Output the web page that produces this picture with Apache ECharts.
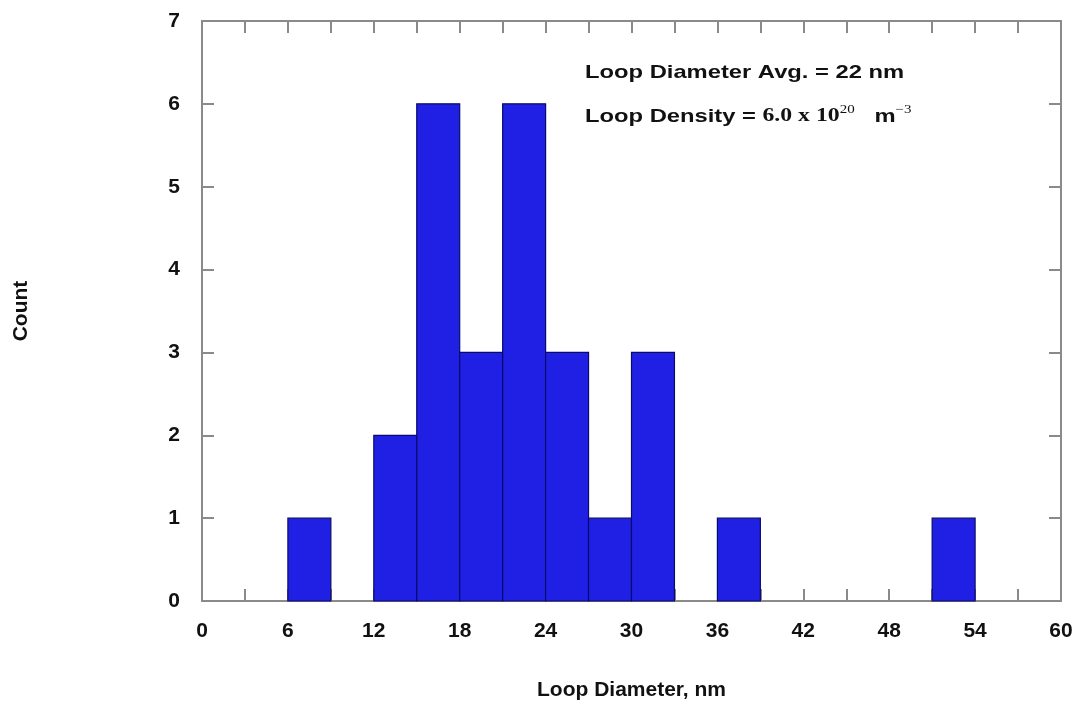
<!DOCTYPE html>
<html>
<head>
<meta charset="utf-8">
<script src="https://cdn.jsdelivr.net/npm/echarts@6/dist/echarts.min.js"></script>
<style>
html,body{margin:0;padding:0;background:#fff;}
#chart{width:1078px;height:706px;}
</style>
</head>
<body>
<div id="chart"></div>
<script>
// Histogram data
const binStarts = [6, 12, 15, 18, 21, 24, 27, 30, 36, 51];
const binWidth = 3;
const counts = [1, 2, 6, 3, 6, 3, 1, 3, 1, 1];
const xTicks = [0, 6, 12, 18, 24, 30, 36, 42, 48, 54, 60];
const yTicks = [0, 1, 2, 3, 4, 5, 6, 7];
const xTitle = 'Loop Diameter, nm';
const yTitle = 'Count';

const barData = binStarts.map((s, i) => [s, s + binWidth, counts[i]]);

const chart = echarts.init(document.getElementById('chart'), null, {renderer: 'canvas'});
const axisColor = '#8a8a8a';
const labelFont = {color: '#111', fontWeight: 'bold', fontSize: 21, fontFamily: 'Liberation Sans, Arial, sans-serif'};

function xAxisBase(pos, showLabel) {
  return {
    type: 'value', position: pos, min: xTicks[0], max: xTicks[xTicks.length - 1], interval: 6,
    axisLine: {show: true, onZero: false, lineStyle: {color: axisColor, width: 2}},
    axisTick: {show: true, inside: true, length: 12, lineStyle: {color: axisColor, width: 2}},
    minorTick: {show: true, splitNumber: 2, length: 12, lineStyle: {color: axisColor, width: 2}},
    axisLabel: Object.assign({show: showLabel, margin: 20}, labelFont),
    splitLine: {show: false}
  };
}
function yAxisBase(pos, showLabel) {
  return {
    type: 'value', position: pos, min: yTicks[0], max: yTicks[yTicks.length - 1], interval: 1,
    axisLine: {show: true, onZero: false, lineStyle: {color: axisColor, width: 2}},
    axisTick: {show: true, inside: true, length: 12, lineStyle: {color: axisColor, width: 2}},
    axisLabel: Object.assign({show: showLabel, margin: 22}, labelFont),
    splitLine: {show: false}
  };
}

const xBottom = xAxisBase('bottom', true);
xBottom.name = xTitle;
xBottom.nameLocation = 'middle';
xBottom.nameGap = 79;
xBottom.nameTextStyle = {color: '#111', fontWeight: 'bold', fontSize: 21, fontFamily: 'Liberation Sans, Arial, sans-serif'};

const yLeft = yAxisBase('left', true);
yLeft.name = yTitle;
yLeft.nameLocation = 'middle';
yLeft.nameGap = 170;
yLeft.nameRotate = 90;
yLeft.nameTextStyle = {color: '#111', fontWeight: 'bold', fontSize: 21, fontFamily: 'Liberation Sans, Arial, sans-serif'};

const option = {
  animation: false,
  backgroundColor: '#fff',
  grid: {left: 202, right: 17, top: 21, bottom: 103, containLabel: false},
  xAxis: [xBottom, xAxisBase('top', false)],
  yAxis: [yLeft, yAxisBase('right', false)],
  series: [{
    type: 'custom',
    xAxisIndex: 0, yAxisIndex: 0,
    data: barData,
    renderItem: function (params, api) {
      const p0 = api.coord([api.value(0), api.value(2)]);
      const p1 = api.coord([api.value(1), 0]);
      return {
        type: 'rect',
        shape: {x: p0[0], y: p0[1], width: p1[0] - p0[0], height: p1[1] - p0[1]},
        style: {fill: '#2020e4', stroke: '#0a0a6a', lineWidth: 1.2}
      };
    },
    encode: {x: [0, 1], y: 2}
  }],
  graphic: [
    {
      type: 'text', x: 585, y: 63, scaleX: 1.25, z: 10,
      style: {text: 'Loop Diameter Avg. = 22 nm', fill: '#111', font: 'bold 19px "Liberation Sans", Arial, sans-serif'}
    },
    {
      type: 'text', x: 585, y: 104, scaleX: 1.25, z: 10,
      style: {
        text: '{s|Loop Density = }{r|6.0 x 10}{sup|20}{s|   m}{sup|−3}',
        fill: '#111',
        rich: {
          s: {font: 'bold 19px "Liberation Sans", Arial, sans-serif', fill: '#111', verticalAlign: 'bottom'},
          r: {font: 'bold 19px "Liberation Serif", "Times New Roman", serif', fill: '#111', verticalAlign: 'bottom'},
          sup: {font: '12px "Liberation Serif", "Times New Roman", serif', fill: '#111', verticalAlign: 'top', padding: [0, 0, 10, 0]}
        }
      }
    }
  ]
};
chart.setOption(option);
</script>
</body>
</html>
